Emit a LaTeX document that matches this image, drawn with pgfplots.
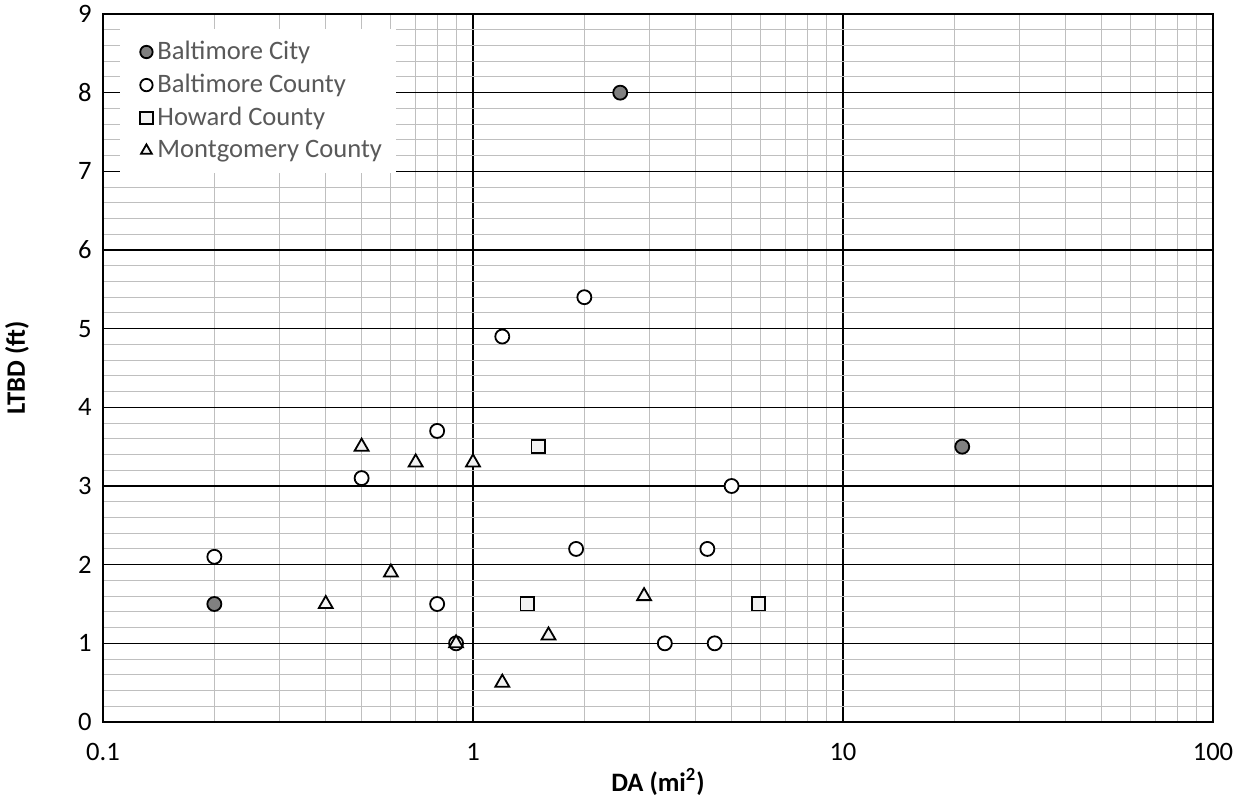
\documentclass[border=0pt]{standalone}
\usepackage{pgfplots}
\pgfplotsset{compat=1.18}
\usepackage{fontspec}
\setmainfont{Carlito}
\definecolor{mgrid}{HTML}{BFBFBF}
\definecolor{cityfill}{HTML}{808080}
\definecolor{hfill}{HTML}{F2F2F2}
\definecolor{legtext}{HTML}{595959}
\begin{document}
\begin{tikzpicture}
\useasboundingbox (-51.5pt,-40.5pt) rectangle (570.5pt,361pt);
\begin{axis}[
  at={(0,0)}, anchor=south west,
  scale only axis,
  width=555pt, height=354pt,
  xmode=log, log basis x=10,
  xmin=0.1, xmax=100, ymin=0, ymax=9,
  ytick={0,1,...,9},
  minor y tick num=4,
  xtick={0.1,1,10,100},
  xticklabels={0.1,1,10,100},
  minor xtick={0.2,0.3,0.4,0.5,0.6,0.7,0.8,0.9,2,3,4,5,6,7,8,9,20,30,40,50,60,70,80,90},
  grid=both,
  major grid style={black, line width=0.8pt},
  minor grid style={mgrid, line width=0.55pt},
  axis line style={black, line width=1.1pt},
  major tick length=0pt, minor tick length=0pt,
  tick label style={font=\fontsize{13.3}{15}\selectfont, inner sep=0pt},
  xticklabel style={anchor=north, yshift=-10.5pt},
  yticklabel style={anchor=east, xshift=-5.5pt},
  xlabel={\textbf{DA (mi\textsuperscript{2})}},
  ylabel={\textbf{LTBD (ft)}},
  label style={font=\fontsize{13.3}{15}\selectfont},
  xlabel style={at={(axis description cs:0.5,-0.0847)}, anchor=center},
  ylabel style={at={(axis description cs:-0.0775,0.5)}, anchor=center},
  legend style={at={(0.015,0.979)}, anchor=north west, draw=none, fill=white,
    font=\fontsize{13.3}{15}\selectfont\color{legtext}, row sep=1.8pt,
    inner xsep=5pt, inner ysep=4pt},
  legend cell align=left,
  legend image code/.code={\path[draw=none,fill=none] (0pt,0pt) rectangle (11.7pt,0.1pt);\draw[#1, mark size=3.1pt] plot coordinates {(8.2pt,0pt)};},
  /pgf/number format/assume math mode=true,
]
\addplot[only marks, mark=*, mark size=3.5pt, mark options={fill=cityfill, draw=black, line width=0.9pt}]
  coordinates {(0.2,1.5) (2.5,8) (21,3.5)};
\addlegendentry{Baltimore City}
\addplot[only marks, mark=*, mark size=3.5pt, mark options={fill=white, draw=black, line width=0.9pt}]
  coordinates {(0.2,2.1) (0.5,3.1) (0.8,3.7) (0.8,1.5) (0.9,1.0) (1.2,4.9) (2.0,5.4) (1.9,2.2) (3.3,1.0) (4.3,2.2) (4.5,1.0) (5.0,3.0)};
\addlegendentry{Baltimore County}
\addplot[only marks, mark=square*, mark size=3.3pt, mark options={fill=hfill, draw=black, line width=0.9pt}]
  coordinates {(1.5,3.5) (1.4,1.5) (5.9,1.5)};
\addlegendentry{Howard County}
\addplot[only marks, mark=triangle*, mark size=4pt, mark options={fill=hfill, draw=black, line width=0.9pt}]
  coordinates {(0.4,1.5) (0.5,3.5) (0.6,1.9) (0.7,3.3) (0.9,1.0) (1.0,3.3) (1.2,0.5) (1.6,1.1) (2.9,1.6)};
\addlegendentry{Montgomery County}
\end{axis}
\end{tikzpicture}
\end{document}
